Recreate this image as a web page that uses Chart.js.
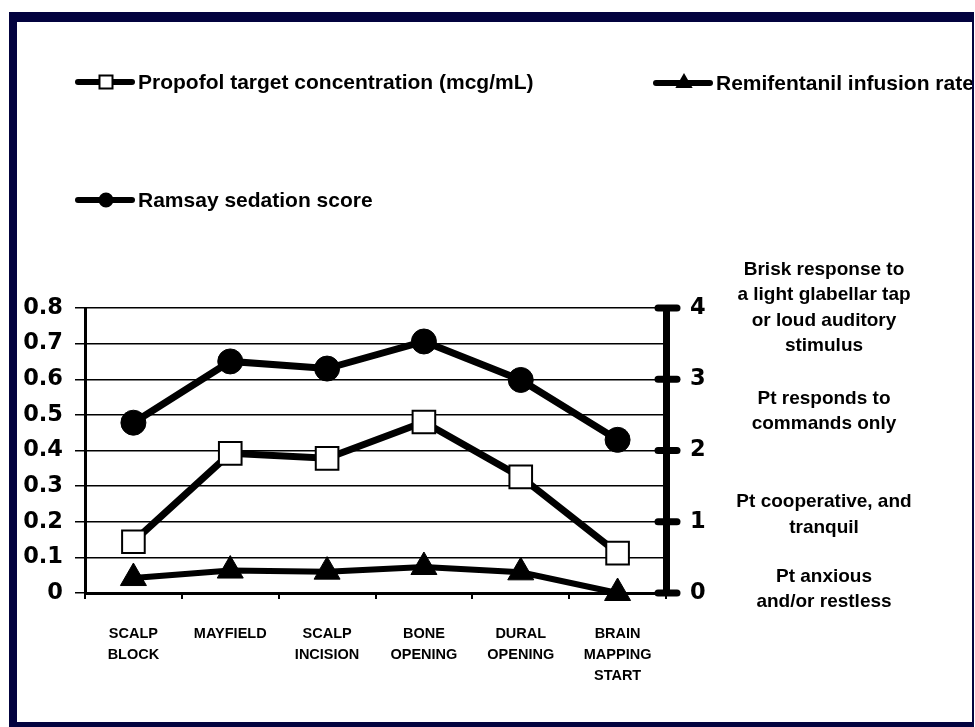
<!DOCTYPE html>
<html>
<head>
<meta charset="utf-8">
<title>Sedation chart</title>
<script src="https://cdn.jsdelivr.net/npm/chart.js@4.4.0/dist/chart.umd.min.js"></script>
<style>
  html, body { margin: 0; padding: 0; background: #ffffff; }
  #wrap { width: 975px; height: 727px; }
</style>
</head>
<body>
<div id="wrap"><canvas id="chart" width="975" height="727"></canvas></div>
<script>
// categories (multi-line tick labels)
const categories = [
  ["SCALP", "BLOCK"],
  ["MAYFIELD"],
  ["SCALP", "INCISION"],
  ["BONE", "OPENING"],
  ["DURAL", "OPENING"],
  ["BRAIN", "MAPPING", "START"]
];

// series values
const propofol = [0.72, 1.96, 1.89, 2.40, 1.63, 0.56];       // right axis
const remifentanil = [0.042, 0.063, 0.060, 0.073, 0.058, 0]; // left axis
const ramsay = [2.39, 3.25, 3.15, 3.53, 2.99, 2.15];         // right axis

// tick labels
const leftTicks = ["0", "0.1", "0.2", "0.3", "0.4", "0.5", "0.6", "0.7", "0.8"];
const rightTicks = ["0", "1", "2", "3", "4"];

// Ramsay descriptions shown right of the right axis
const ramsayNotes = [
  ["Brisk response to", "a light glabellar tap", "or loud auditory", "stimulus"],
  ["Pt responds to", "commands only"],
  ["Pt cooperative, and", "tranquil"],
  ["Pt anxious", "and/or restless"]
];
const ramsayNoteLevels = [4, 2.55, 1.1, 0.05];

const FONT = "'Liberation Sans', Arial, Helvetica, sans-serif";
const NUM_FONT = "'DejaVu Sans', 'Liberation Sans', Arial, sans-serif";
const NAVY = "#03033f";

// legend, notes, right-axis tick caps and the frame drawn on top of the chart
const extrasPlugin = {
  id: "extras",
  beforeDraw: function (chart) {
    const ctx = chart.ctx;
    ctx.save();
    ctx.fillStyle = "#ffffff";
    ctx.fillRect(0, 0, chart.width, chart.height);
    ctx.restore();
  },
  afterDraw: function (chart) {
    const ctx = chart.ctx;
    const y1 = chart.scales.y1;

    // rounded tick marks across the right axis
    ctx.save();
    ctx.strokeStyle = "#000";
    ctx.lineWidth = 7;
    ctx.lineCap = "round";
    y1.ticks.forEach(function (t) {
      const py = y1.getPixelForValue(t.value);
      ctx.beginPath();
      ctx.moveTo(y1.left - 8, py);
      ctx.lineTo(y1.left + 11, py);
      ctx.stroke();
    });
    ctx.restore();

    const spots = [{ x: 75, y: 82 }, { x: 653, y: 83 }, { x: 75, y: 200 }];
    const marks = [
      { pointStyle: "rect", radius: 9.2, fill: "#ffffff" },
      { pointStyle: "triangle", radius: 8, fill: "#000000" },
      { pointStyle: "circle", radius: 6.5, fill: "#000000" }
    ];

    ctx.save();
    ctx.beginPath();
    ctx.rect(0, 0, 972, chart.height);
    ctx.clip();
    chart.data.datasets.forEach(function (ds, i) {
      const p = spots[i];
      ctx.strokeStyle = "#000";
      ctx.lineCap = "round";
      ctx.lineWidth = 6;
      ctx.beginPath();
      ctx.moveTo(p.x + 3, p.y);
      ctx.lineTo(p.x + 57, p.y);
      ctx.stroke();
      ctx.lineCap = "butt";
      ctx.fillStyle = marks[i].fill;
      ctx.lineWidth = 2;
      Chart.helpers.drawPoint(ctx, {
        pointStyle: marks[i].pointStyle,
        radius: marks[i].radius,
        rotation: 0,
        borderWidth: 2
      }, p.x + 31, p.y);
      ctx.fillStyle = "#000";
      ctx.font = "bold 21px " + FONT;
      ctx.textBaseline = "middle";
      ctx.textAlign = "left";
      ctx.fillText(ds.label, p.x + 63, p.y + 1);
    });
    ctx.restore();

    // notes next to the right axis
    ctx.save();
    ctx.fillStyle = "#000";
    ctx.font = "bold 19px " + FONT;
    ctx.textAlign = "center";
    ctx.textBaseline = "middle";
    ramsayNotes.forEach(function (lines, i) {
      const cy = y1.getPixelForValue(ramsayNoteLevels[i]);
      const lh = 25.5;
      const top = cy - (lines.length - 1) * lh / 2;
      lines.forEach(function (t, j) {
        ctx.fillText(t, 824, top + j * lh);
      });
    });
    ctx.restore();

    // navy frame
    ctx.save();
    ctx.fillStyle = "#ffffff";
    ctx.fillRect(974, 0, 1, chart.height);
    ctx.fillStyle = NAVY;
    ctx.fillRect(9, 12, 965, 10);
    ctx.fillRect(9, 12, 8, 715);
    ctx.fillRect(9, 722, 965, 5);
    ctx.fillRect(972, 12, 2, 715);
    ctx.restore();
  }
};

const ctx = document.getElementById("chart").getContext("2d");

new Chart(ctx, {
  type: "line",
  data: {
    labels: categories,
    datasets: [
      {
        label: "Propofol target concentration (mcg/mL)",
        data: propofol,
        yAxisID: "y1",
        borderColor: "#000",
        borderWidth: 7,
        pointStyle: "rect",
        pointRadius: 16,
        pointBackgroundColor: "#fff",
        pointBorderColor: "#000",
        pointBorderWidth: 2,
        tension: 0,
        clip: false
      },
      {
        label: "Remifentanil infusion rate",
        data: remifentanil,
        yAxisID: "y",
        borderColor: "#000",
        borderWidth: 6,
        pointStyle: "triangle",
        pointRadius: 15,
        pointBackgroundColor: "#000",
        pointBorderColor: "#000",
        pointBorderWidth: 1,
        tension: 0,
        clip: false
      },
      {
        label: "Ramsay sedation score",
        data: ramsay,
        yAxisID: "y1",
        borderColor: "#000",
        borderWidth: 7,
        pointStyle: "circle",
        pointRadius: 12.5,
        pointBackgroundColor: "#000",
        pointBorderColor: "#000",
        pointBorderWidth: 1,
        tension: 0,
        clip: false
      }
    ]
  },
  options: {
    responsive: false,
    devicePixelRatio: 1,
    animation: false,
    layout: { padding: { top: 308, left: 0, right: 0, bottom: 0 } },
    plugins: {
      legend: { display: false },
      tooltip: { enabled: false }
    },
    scales: {
      x: {
        type: "category",
        offset: true,
        grid: {
          display: true,
          drawOnChartArea: false,
          offset: true,
          color: "#000",
          lineWidth: 2,
          tickLength: 6
        },
        border: { display: true, color: "#000", width: 3 },
        ticks: {
          color: "#000",
          autoSkip: false,
          maxRotation: 0,
          padding: 24,
          font: { family: FONT, weight: "bold", size: 14.5, lineHeight: 1.45 }
        },
        afterFit: function (s) { s.height = 134; }
      },
      y: {
        position: "left",
        min: 0,
        max: 0.8,
        ticks: {
          stepSize: 0.1,
          color: "#000",
          padding: 12,
          font: { family: NUM_FONT, weight: "bold", size: 22.5 },
          callback: function (v, i) { return leftTicks[i]; }
        },
        grid: { color: "#000", lineWidth: 1.5, tickLength: 10 },
        border: { color: "#000", width: 3 },
        afterFit: function (s) { s.width = 85; }
      },
      y1: {
        position: "right",
        min: 0,
        max: 4,
        ticks: {
          stepSize: 1,
          color: "#000",
          padding: 10,
          font: { family: NUM_FONT, weight: "bold", size: 22.5 },
          callback: function (v, i) { return rightTicks[i]; }
        },
        grid: { drawOnChartArea: false, color: "rgba(0,0,0,0)", lineWidth: 1, tickLength: 14 },
        border: { color: "#000", width: 7 },
        afterFit: function (s) { s.width = 309; }
      }
    }
  },
  plugins: [extrasPlugin]
});
</script>
</body>
</html>
